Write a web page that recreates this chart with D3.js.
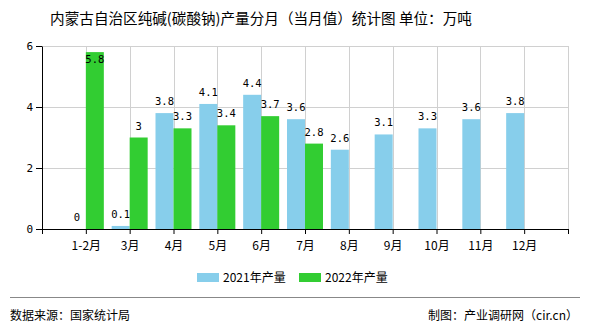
<!DOCTYPE html>
<html><head><meta charset="utf-8">
<script src="https://cdn.jsdelivr.net/npm/d3@7"></script>
<style>
body{margin:0;background:#fff;}
svg{display:block;}
</style></head>
<body>
<svg id="c" width="590" height="330"></svg>
<script>
const categories = ["1-2月","3月","4月","5月","6月","7月","8月","9月","10月","11月","12月"];
const series2021 = [0,0.1,3.8,4.1,4.4,3.6,2.6,3.1,3.3,3.6,3.8];
const series2022 = [5.8,3,3.3,3.4,3.7,2.8,null,null,null,null,null];
const seriesNames = ["2021年产量","2022年产量"];
const colors = ["#87CEEB","#32CD32"];
const yTicks = [0,2,4,6];
const title = "内蒙古自治区纯碱(碳酸钠)产量分月（当月值）统计图 单位：万吨";
const sourceText = "数据来源：国家统计局";
const creditText = "制图：产业调研网（cir.cn）";

const svg = d3.select("#c");
const m = {left:42, right:568, top:46, bottom:229};
const cjk = "'Noto Sans CJK SC', sans-serif";
const mono = "'DejaVu Sans Mono', monospace";

const x = d3.scalePoint().domain(categories).range([m.left, m.right]).padding(1);
const y = d3.scaleLinear().domain([0,6]).range([m.bottom, m.top]);
const barW = 18;

// title
svg.append("text").attr("x",261).attr("y",24).attr("text-anchor","middle")
  .style("font-family",cjk).style("font-size","14.6px").attr("fill","#000").text(title);

// gridlines
const grid = svg.append("g");
grid.selectAll("line.h").data(yTicks.filter(d=>d>0)).join("line")
  .attr("x1",m.left).attr("x2",m.right).attr("y1",d=>y(d)).attr("y2",d=>y(d))
  .attr("stroke","#d0d0d0").attr("stroke-width",1).attr("shape-rendering","crispEdges");
const vPos = categories.map(c=>x(c)).concat([m.right]);
grid.selectAll("line.v").data(vPos).join("line")
  .attr("x1",d=>Math.round(d)).attr("x2",d=>Math.round(d)).attr("y1",m.top).attr("y2",m.bottom)
  .attr("stroke","#d0d0d0").attr("stroke-width",1).attr("shape-rendering","crispEdges");

// bars
const data = categories.map((c,i)=>({c, v:[series2021[i], series2022[i]]}));
[0,1].forEach(s=>{
  const g = svg.append("g");
  const d = data.filter(d=>d.v[s]!=null);
  g.selectAll("rect").data(d).join("rect")
    .attr("x",d=>x(d.c) + (s===0 ? -barW : 0))
    .attr("width",barW)
    .attr("y",d=>y(d.v[s]))
    .attr("height",d=>y(0)-y(d.v[s]))
    .attr("fill",colors[s]);
  g.selectAll("text").data(d).join("text")
    .attr("x",d=>x(d.c) + (s===0 ? -barW/2 : barW/2))
    .attr("y",d=>Math.max(y(d.v[s]) - 8, m.top + 17))
    .attr("text-anchor","middle")
    .style("font-family",mono).style("font-size","10.5px").attr("fill","#000")
    .text(d=>d.v[s]);
});

// y axis
const ya = svg.append("g").attr("transform",`translate(${m.left},0)`)
  .call(d3.axisLeft(y).tickValues(yTicks).tickSize(6).tickSizeOuter(0).tickFormat(d3.format("d")));
ya.select(".domain").attr("stroke","#000");
ya.selectAll(".tick line").attr("stroke","#000");
ya.selectAll(".tick text").style("font-family",mono).style("font-size","11px").attr("fill","#000").attr("x",-9);

// x axis
const xa = svg.append("g").attr("transform",`translate(0,${m.bottom})`)
  .call(d3.axisBottom(x).tickSize(5).tickSizeOuter(0));
xa.select(".domain").attr("stroke","#000").attr("d",`M${m.left},0.5H${m.right}`);
xa.selectAll(".tick line").attr("stroke","#000");
xa.selectAll(".tick text").style("font-family",cjk).style("font-size","12px").attr("fill","#000").attr("dy","1.1em");
xa.selectAll("line.edge").data([m.left,m.right]).join("line").attr("class","edge")
  .attr("x1",d=>d+0.5).attr("x2",d=>d+0.5).attr("y1",0).attr("y2",5).attr("stroke","#000");

// legend
const lg = svg.append("g");
const lx = [197, 299];
seriesNames.forEach((n,i)=>{
  lg.append("rect").attr("x",lx[i]).attr("y",273).attr("width",22).attr("height",9).attr("fill",colors[i]);
  lg.append("text").attr("x",lx[i]+26).attr("y",281.5).style("font-family",cjk).style("font-size","12px")
    .attr("fill","#000").text(n);
});

// footer
svg.append("line").attr("x1",10).attr("x2",580).attr("y1",297.5).attr("y2",297.5).attr("stroke","#888");
svg.append("text").attr("x",10).attr("y",320).style("font-family",cjk).style("font-size","12px").attr("fill","#000").text(sourceText);
svg.append("text").attr("x",578).attr("y",320).attr("text-anchor","end").style("font-family",cjk).style("font-size","12px").attr("fill","#000").text(creditText);
</script>
</body></html>
